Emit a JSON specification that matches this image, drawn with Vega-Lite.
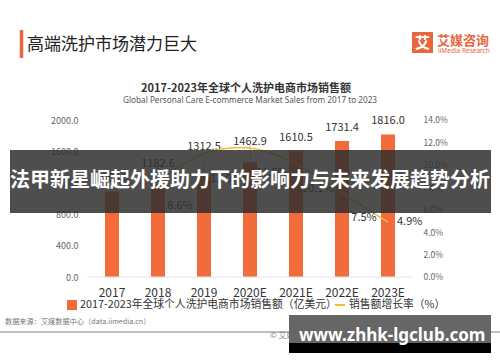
{
  "$schema": "https://vega.github.io/schema/vega-lite/v6.json",
  "width": 500,
  "height": 362,
  "autosize": {"type": "none"},
  "padding": 0,
  "background": "white",
  "config": {
    "view": {"stroke": null},
    "font": "Noto Sans CJK SC",
    "text": {"font": "Noto Sans CJK SC"},
    "axis": {"labelFont": "Noto Sans CJK SC"},
    "legend": {"labelFont": "Noto Sans CJK SC"}
  },
  "datasets": {
    "main": [
      {"year": "2017", "sales": 1089.3, "growth": null},
      {"year": "2018", "sales": 1182.6, "growth": 0.086},
      {"year": "2019", "sales": 1312.5, "growth": 0.110},
      {"year": "2020E", "sales": 1462.9, "growth": 0.115},
      {"year": "2021E", "sales": 1610.5, "growth": 0.101},
      {"year": "2022E", "sales": 1731.4, "growth": 0.075},
      {"year": "2023E", "sales": 1816.0, "growth": 0.049}
    ]
  },
  "data": {"name": "main"},
  "layer": [
    {
      "layer": [
        {
          "mark": {"type": "bar"},
          "encoding": {
            "x": {
              "field": "year", "type": "nominal",
              "scale": {"type": "band", "domain": ["2017", "2018", "2019", "2020E", "2021E", "2022E", "2023E"], "range": [59, 441], "paddingInner": 0.696, "paddingOuter": 1},
              "axis": {"title": null, "orient": "bottom", "offset": -85, "domain": false, "ticks": false, "tickSize": 0, "labelPadding": 10, "labelFontSize": 12, "labelColor": "#333", "labelAngle": 0, "grid": false}
            },
            "y": {
              "field": "sales", "type": "quantitative",
              "scale": {"domain": [-1082.8, 3528.7], "nice": false, "zero": false},
              "axis": {"title": null, "orient": "left", "offset": -82, "values": [0, 200, 400, 600, 800, 1000, 1200, 1400, 1600, 1800, 2000], "format": ".1f", "domain": false, "ticks": false, "tickSize": 0, "grid": false, "labelPadding": 4, "labelFontSize": 9, "labelColor": "#666"}
            },
            "fill": {
              "datum": "2017-2023年全球个人洗护电商市场销售额（亿美元）",
              "scale": {"range": ["#F26B3A"]},
              "legend": {"orient": "none", "legendX": 66, "legendY": 299, "title": null, "symbolType": "square", "symbolSize": 100, "labelFontSize": 10.8, "labelColor": "#333", "padding": 0, "labelLimit": 400, "labelOffset": 2}
            }
          }
        },
        {
          "transform": [{"filter": {"field": "year", "oneOf": ["2017", "2021E", "2022E", "2023E"]}}],
          "mark": {"type": "text", "baseline": "middle", "dy": -13, "fontSize": 11, "color": "#333"},
          "encoding": {"x": {"field": "year", "type": "nominal"}, "y": {"field": "sales", "type": "quantitative"}, "text": {"field": "sales", "type": "quantitative", "format": ".1f"}}
        },
        {
          "transform": [{"filter": {"field": "year", "oneOf": ["2018", "2020E"]}}],
          "mark": {"type": "text", "baseline": "middle", "dy": -20, "fontSize": 11, "color": "#333"},
          "encoding": {"x": {"field": "year", "type": "nominal"}, "y": {"field": "sales", "type": "quantitative"}, "text": {"field": "sales", "type": "quantitative", "format": ".1f"}}
        },
        {
          "transform": [{"filter": {"field": "year", "oneOf": ["2019"]}}],
          "mark": {"type": "text", "baseline": "middle", "dy": -27, "fontSize": 11, "color": "#333"},
          "encoding": {"x": {"field": "year", "type": "nominal"}, "y": {"field": "sales", "type": "quantitative"}, "text": {"field": "sales", "type": "quantitative", "format": ".1f"}}
        },
        {
          "transform": [{"filter": {"field": "year", "oneOf": ["2019", "2020E"]}}],
          "mark": {"type": "rule", "color": "#999", "strokeWidth": 0.7, "y2Offset": -17},
          "encoding": {"x": {"field": "year", "type": "nominal"}, "y": {"field": "sales", "type": "quantitative"}, "y2": {"field": "sales"}}
        },
        {
          "data": {"values": [{"k": 1}]},
          "mark": {"type": "rule", "color": "#e2e2e2", "strokeWidth": 1, "xOffset": -25, "x2Offset": 24},
          "encoding": {"x": {"datum": "2017"}, "x2": {"datum": "2023E"}, "y": {"datum": 0}}
        }
      ]
    },
    {
      "layer": [
        {
          "transform": [{"filter": "isValid(datum.growth)"}],
          "mark": {"type": "line", "interpolate": "cardinal", "strokeWidth": 1.5},
          "encoding": {
            "x": {"field": "year", "type": "nominal"},
            "y": {
              "field": "growth", "type": "quantitative",
              "scale": {"domain": [-0.0758, 0.2470], "nice": false, "zero": false},
              "axis": {"title": null, "orient": "right", "offset": -81, "values": [0, 0.02, 0.04, 0.06, 0.08, 0.1, 0.12, 0.14], "format": ".1%", "domain": false, "ticks": false, "tickSize": 0, "grid": false, "labelPadding": 4, "labelFontSize": 8.5, "labelColor": "#666"}
            },
            "stroke": {
              "datum": "销售额增长率（%）",
              "scale": {"range": ["#EDBE3A"]},
              "legend": {"orient": "none", "legendX": 334, "legendY": 299, "title": null, "symbolType": "stroke", "symbolStrokeWidth": 2, "symbolSize": 100, "labelFontSize": 10.8, "labelColor": "#333", "padding": 0, "labelLimit": 300, "labelOffset": 3}
            }
          }
        },
        {
          "transform": [{"filter": "isValid(datum.growth) && datum.year != '2023E'"}],
          "mark": {"type": "text", "baseline": "middle", "dx": 22, "dy": 25, "fontSize": 11, "color": "#333"},
          "encoding": {"x": {"field": "year", "type": "nominal"}, "y": {"field": "growth", "type": "quantitative"}, "text": {"field": "growth", "type": "quantitative", "format": ".1%"}}
        },
        {
          "transform": [{"filter": "datum.year == '2023E'"}],
          "mark": {"type": "text", "baseline": "middle", "align": "left", "dx": 9, "dy": 0, "fontSize": 11, "color": "#333"},
          "encoding": {"x": {"field": "year", "type": "nominal"}, "y": {"field": "growth", "type": "quantitative"}, "text": {"field": "growth", "type": "quantitative", "format": ".1%"}}
        }
      ]
    },
    {
      "layer": [
        {
          "data": {"values": [{"t": "高端洗护市场潜力巨大"}]},
          "mark": {"type": "text", "align": "left", "baseline": "middle", "dx": -85, "fontSize": 17, "color": "#222"},
          "encoding": {
            "x": {"datum": "2017"},
            "y": {"datum": 2955, "scale": {"domain": [-1082.8, 3528.7], "nice": false, "zero": false}, "axis": null},
            "text": {"field": "t"}
          }
        },
        {
          "data": {"values": [{"k": 1}]},
          "mark": {"type": "rule", "color": "#E8673F", "strokeWidth": 3.5, "xOffset": -90.5},
          "encoding": {"x": {"datum": "2017"}, "y": {"datum": 3146}, "y2": {"datum": 2790}}
        },
        {
          "data": {"values": [{"k": 1}]},
          "mark": {"type": "square", "color": "#E8673F", "opacity": 1, "size": 441, "xOffset": 34.5},
          "encoding": {"x": {"datum": "2023E"}, "y": {"datum": 2987}}
        },
        {
          "data": {"values": [{"t": "艾"}]},
          "mark": {"type": "text", "align": "center", "baseline": "middle", "dx": 34.5, "fontSize": 15, "fontWeight": "bold", "color": "white"},
          "encoding": {"x": {"datum": "2023E"}, "y": {"datum": 2987}, "text": {"field": "t"}}
        },
        {
          "data": {"values": [{"t": "艾媒咨询"}]},
          "mark": {"type": "text", "align": "left", "baseline": "middle", "dx": 49, "fontSize": 13, "fontWeight": "bold", "color": "#E8673F"},
          "encoding": {"x": {"datum": "2023E"}, "y": {"datum": 3006}, "text": {"field": "t"}}
        },
        {
          "data": {"values": [{"t": "iiMedia Research"}]},
          "mark": {"type": "text", "align": "left", "baseline": "middle", "dx": 50, "fontSize": 6.5, "font": "Noto Sans", "color": "#E8673F"},
          "encoding": {"x": {"datum": "2023E"}, "y": {"datum": 2879}, "text": {"field": "t"}}
        },
        {
          "data": {"values": [{"t": "2017-2023年全球个人洗护电商市场销售额"}]},
          "mark": {"type": "text", "align": "center", "baseline": "middle", "dx": -4, "fontSize": 11, "fontWeight": "bold", "color": "#333"},
          "encoding": {"x": {"datum": "2020E"}, "y": {"datum": 2395}, "text": {"field": "t"}}
        },
        {
          "data": {"values": [{"t": "Global Personal Care E-commerce Market Sales from 2017 to 2023"}]},
          "mark": {"type": "text", "align": "center", "baseline": "middle", "dx": 0, "fontSize": 8.2, "font": "Noto Sans", "color": "#555"},
          "encoding": {"x": {"datum": "2020E"}, "y": {"datum": 2248}, "text": {"field": "t"}}
        },
        {
          "data": {"values": [{"t": "数据来源：艾媒数据中心（data.iimedia.cn）"}]},
          "mark": {"type": "text", "align": "left", "baseline": "middle", "dx": -107, "fontSize": 7.2, "color": "#777"},
          "encoding": {"x": {"datum": "2017"}, "y": {"datum": -573}, "text": {"field": "t"}}
        },
        {
          "data": {"values": [{"k": 1}]},
          "mark": {"type": "rule", "color": "#aaa", "strokeWidth": 1.5},
          "encoding": {"y": {"datum": -701}}
        },
        {
          "data": {"values": [{"t": "© 艾媒咨询"}]},
          "mark": {"type": "text", "align": "left", "baseline": "middle", "dx": 20, "fontSize": 8, "color": "#888"},
          "encoding": {"x": {"datum": "2020E"}, "y": {"datum": -752}, "text": {"field": "t"}}
        },
        {
          "data": {"values": [{"k": 1}]},
          "mark": {"type": "rule", "color": "#2f2f2f", "opacity": 0.85, "strokeWidth": 63, "strokeCap": "butt", "xOffset": -102, "x2Offset": 103},
          "encoding": {"x": {"datum": "2017"}, "x2": {"datum": "2023E"}, "y": {"datum": 1216.6}}
        },
        {
          "data": {"values": [{"t": "法甲新星崛起外援助力下的影响力与未来发展趋势分析"}]},
          "mark": {"type": "text", "align": "center", "baseline": "middle", "fontSize": 20, "fontWeight": "bold", "color": "white"},
          "encoding": {"x": {"datum": "2020E"}, "y": {"datum": 1223}, "text": {"field": "t"}}
        },
        {
          "data": {"values": [{"k": 1}]},
          "mark": {"type": "rule", "color": "#666666", "strokeWidth": 28, "strokeCap": "butt", "xOffset": -7, "x2Offset": 103},
          "encoding": {"x": {"datum": "2021E"}, "x2": {"datum": "2023E"}, "y": {"datum": -662.4}}
        },
        {
          "data": {"values": [{"k": 1}]},
          "mark": {"type": "rule", "color": "#000000", "strokeWidth": 10, "strokeCap": "butt", "xOffset": -7, "x2Offset": 103},
          "encoding": {"x": {"datum": "2021E"}, "x2": {"datum": "2023E"}, "y": {"datum": -904.5}}
        },
        {
          "data": {"values": [{"t": "www.zhhk-lgclub.com"}]},
          "mark": {"type": "text", "align": "left", "baseline": "middle", "dx": 3, "fontSize": 17, "fontWeight": "bold", "font": "Noto Sans", "color": "white"},
          "encoding": {"x": {"datum": "2021E"}, "y": {"datum": -752}, "text": {"field": "t"}}
        }
      ]
    }
  ],
  "resolve": {"scale": {"y": "independent"}, "axis": {"y": "independent"}}
}
